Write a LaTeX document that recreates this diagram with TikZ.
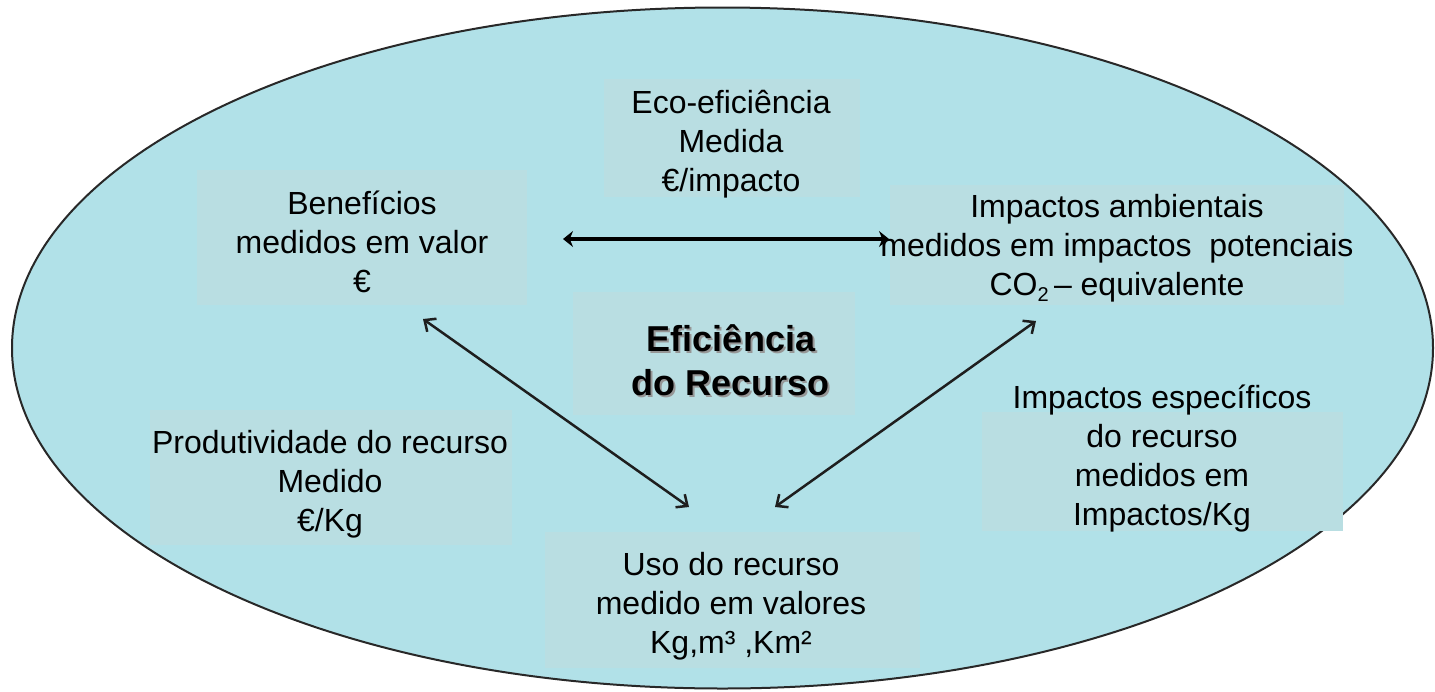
\documentclass[tikz,border=0pt]{standalone}
\usepackage{fontspec}
\setmainfont{Liberation Sans}
\usetikzlibrary{arrows.meta}
\definecolor{ellfill}{RGB}{177,225,232}
\definecolor{boxfill}{RGB}{185,222,226}
\definecolor{ellline}{RGB}{40,40,40}
\tikzset{
  bgbox/.style={fill=boxfill, draw=none},
  lbl/.style={align=center, inner sep=0pt, font=\fontsize{32}{39}\selectfont, text=black},
  title/.style={align=center, inner sep=0pt, font=\fontsize{36}{44}\selectfont\bfseries},
  thinarrow/.style={line width=2.5pt, draw={rgb,255:red,30;green,30;blue,30}, {Straight Barb[length=9pt,width=16pt]}-{Straight Barb[length=9pt,width=16pt]}},
  thickarrow/.style={line width=4pt, draw=black, {Stealth[length=10pt,width=16pt]}-{Stealth[length=10pt,width=16pt]}}
}
\begin{document}
\begin{tikzpicture}[x=1pt,y=-1pt]
\useasboundingbox (0,0) rectangle (1435,691);
% big ellipse
\draw[fill=ellfill, draw=ellline, line width=2pt] (722.5,348) ellipse [x radius=710.5, y radius=340.5];
% background boxes
\fill[bgbox] (604,79) rectangle (860,197);
\fill[bgbox] (197,170) rectangle (527,305);
\fill[bgbox] (890,185) rectangle (1344,305);
\fill[bgbox] (573,292) rectangle (855,415);
\fill[bgbox] (150,410) rectangle (512,545);
\fill[bgbox] (982,412) rectangle (1343,531);
\fill[bgbox] (545,532) rectangle (920,668);
% texts
\node[lbl] (eco) at (731,144) {Eco-eficiência\\Medida\\€/impacto};
\node[lbl] (ben) at (362,242) {Benefícios\\medidos em valor\\€};
\node[lbl] (imp) at (1117,248) {Impactos ambientais\\medidos em impactos\ \ potenciais\\CO\raisebox{-0.35ex}{\fontsize{20}{20}\selectfont 2}\,– equivalente};
\node[title, text={rgb,255:red,150;green,150;blue,150}] (efishadow) at (733,362) {Eficiência\\do Recurso};
\node[title, text=black] (efi) at (731,360) {Eficiência\\do Recurso};
\node[lbl] (prod) at (330,484) {Produtividade do recurso\\Medido\\€/Kg};
\node[lbl] (esp) at (1162,459) {Impactos específicos\\do recurso\\medidos em\\Impactos/Kg};
\node[lbl] (uso) at (731,606) {Uso do recurso\\medido em valores\\Kg,m³ ,Km²};
% arrow end points
\coordinate (hL) at (563,239);
\coordinate (hR) at (889,239);
\coordinate (dlA) at (423,319);
\coordinate (dlB) at (689,507);
\coordinate (drA) at (1036,321);
\coordinate (drB) at (775,507);
\draw[thickarrow] (hL) -- (hR);
\draw[thinarrow] (dlA) -- (dlB);
\draw[thinarrow] (drA) -- (drB);
\end{tikzpicture}
\end{document}
